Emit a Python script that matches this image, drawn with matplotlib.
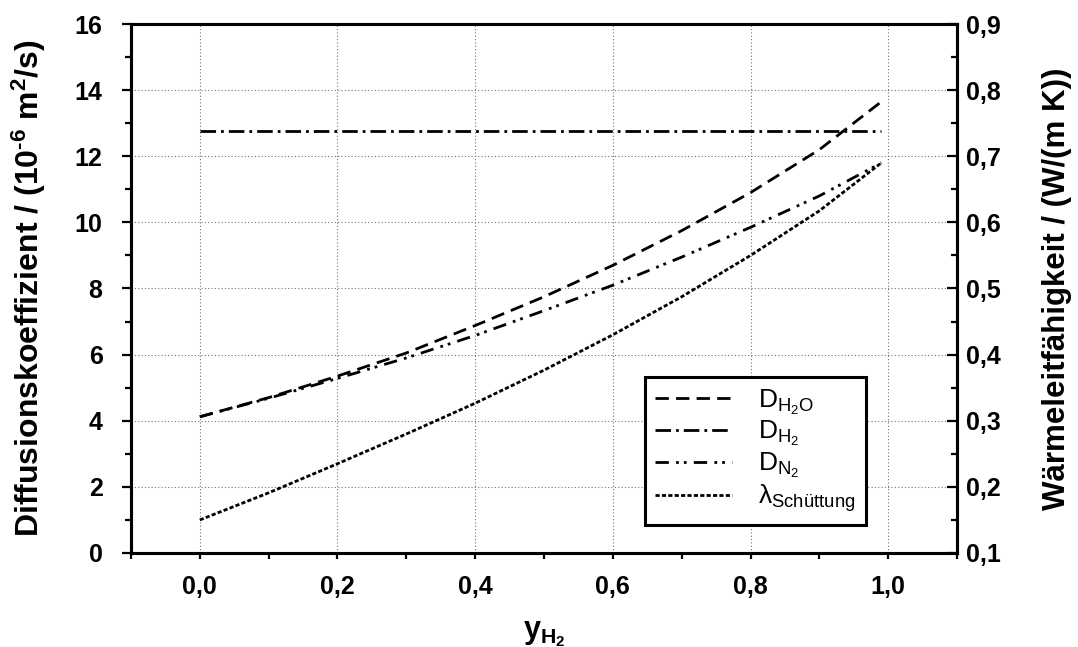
import matplotlib
matplotlib.use("Agg")
import matplotlib.pyplot as plt
from matplotlib.ticker import MultipleLocator, FuncFormatter

plt.rcParams['font.family'] = ['Liberation Sans', 'DejaVu Sans']
plt.rcParams['mathtext.fontset'] = 'custom'
plt.rcParams['mathtext.rm'] = 'Liberation Sans'
plt.rcParams['mathtext.it'] = 'Liberation Sans:italic'
plt.rcParams['mathtext.bf'] = 'Liberation Sans:bold'

# Molenbruch Wasserstoff
y_h2 = [0.0, 0.1, 0.2, 0.3, 0.4, 0.5, 0.6, 0.7, 0.8, 0.9, 0.99]
# Diffusionskoeffizienten in 10^-6 m^2/s
d_h2o = [4.12, 4.70, 5.35, 6.05, 6.88, 7.75, 8.70, 9.75, 10.90, 12.20, 13.65]
d_h2 = [12.75, 12.75, 12.75, 12.75, 12.75, 12.75, 12.75, 12.75, 12.75, 12.75, 12.75]
d_n2 = [4.12, 4.68, 5.28, 5.90, 6.58, 7.33, 8.10, 8.95, 9.85, 10.80, 11.80]
# Waermeleitfaehigkeit der Schuettung in W/(m K)
lam = [0.150, 0.191, 0.235, 0.280, 0.3265, 0.3765, 0.430, 0.4875, 0.550, 0.6175, 0.690]

fig = plt.figure(figsize=(10.78, 6.47), dpi=100)
ax = fig.add_axes([0.1215, 0.1453, 0.7663, 0.8176])
ax2 = ax.twinx()

lw = 2.0
l1, = ax.plot(y_h2, d_h2o, color='black', lw=lw, ls=(0, (4.8, 2.6)),
              label=r'$\mathregular{D_{H_2O}}$')
l2, = ax.plot(y_h2, d_h2, color='black', lw=lw, ls=(0, (5.6, 1.8, 1.0, 1.8)),
              label=r'$\mathregular{D_{H_2}}$')
l3, = ax.plot(y_h2, d_n2, color='black', lw=lw, ls=(0, (4.8, 2.6, 1.0, 1.8, 1.0, 2.6)),
              label=r'$\mathregular{D_{N_2}}$')
l4, = ax2.plot(y_h2, lam, color='black', lw=lw, ls=(0, (1.5, 0.8)),
               label=r'$\mathregular{λ_{Schüttung}}$')

ax.set_xlim(-0.1, 1.1)
ax.set_ylim(0, 16)
ax2.set_ylim(0.1, 0.9)

ax.xaxis.set_major_locator(MultipleLocator(0.2))
ax.xaxis.set_minor_locator(MultipleLocator(0.1))
ax.yaxis.set_major_locator(MultipleLocator(2))
ax.yaxis.set_minor_locator(MultipleLocator(1))
ax2.yaxis.set_major_locator(MultipleLocator(0.1))
ax2.yaxis.set_minor_locator(MultipleLocator(0.05))

comma = FuncFormatter(lambda v, p: ('%.1f' % v).replace('.', ','))
ax.xaxis.set_major_formatter(comma)
ax2.yaxis.set_major_formatter(comma)
ax.yaxis.set_major_formatter(FuncFormatter(lambda v, p: '%d' % round(v)))

ax.grid(True, which='major', color='0.45', lw=0.8, ls=(0, (1, 2)))

for a in (ax, ax2):
    for s in a.spines.values():
        s.set_linewidth(2.2)
ax.tick_params(which='both', width=1.6, labelsize=18)
ax.tick_params(axis='x', which='both', direction='out', length=4, pad=11.5)
ax.tick_params(axis='y', which='major', direction='out', length=6.5, pad=14)
ax.tick_params(axis='y', which='minor', direction='out', length=4.3)
ax2.tick_params(which='both', direction='in', width=1.6, labelsize=18)
ax2.tick_params(which='major', length=7, pad=6.5)
ax2.tick_params(which='minor', length=4)

for t in ax.get_xticklabels() + ax.get_yticklabels() + ax2.get_yticklabels():
    t.set_fontweight('bold')

ax.set_xlabel(r'$\mathregular{y_{H_2}}$', fontsize=22, fontweight='bold')
ax.xaxis.set_label_coords(0.5, -0.125)
ax.set_ylabel('Diffusionskoeffizient / (10$\\mathregular{^{\u20106}}$ m$\\mathregular{^2}$/s)',
              fontsize=23, fontweight='bold')
ax.yaxis.set_label_coords(-0.1005, 0.5)
ax2.set_ylabel('Wärmeleitfähigkeit / (W/(m K))', fontsize=22.5, fontweight='bold')
ax2.yaxis.set_label_coords(1.103, 0.5)

leg = ax2.legend(handles=[l1, l2, l3, l4], loc='upper left',
                 bbox_to_anchor=(0.622, 0.333), fontsize=19, handlelength=2.9,
                 labelspacing=0.1, handletextpad=1.0, borderpad=0.4,
                 borderaxespad=0, fancybox=False, framealpha=1, edgecolor='black')
leg.get_frame().set_linewidth(2.2)

fig.savefig('out.png', dpi=100)
